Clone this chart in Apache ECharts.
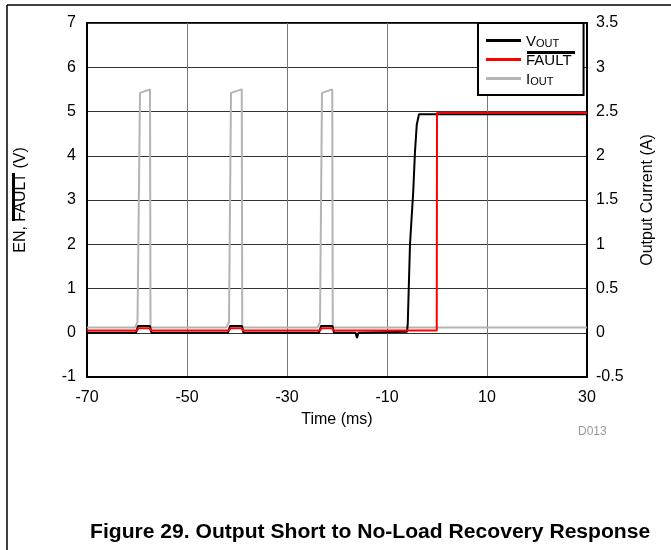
<!DOCTYPE html>
<html>
<head>
<meta charset="utf-8">
<script src="https://cdn.jsdelivr.net/npm/echarts@6/dist/echarts.min.js"></script>
<style>
html,body{margin:0;padding:0;background:#fff;}
#chart{width:671px;height:550px;}
</style>
</head>
<body>
<div id="chart"></div>
<script>
// ---- data ----
const xTicks = [-70, -50, -30, -10, 10, 30];
const leftTicks = [-1, 0, 1, 2, 3, 4, 5, 6, 7];
const rightTicks = [-0.5, 0, 0.5, 1, 1.5, 2, 2.5, 3, 3.5];

// VOUT (V, left axis)
const vTime = [-70, -60.2, -59.8, -57.4, -57.1, -41.8, -41.4, -39.0, -38.7, -23.6, -23.2, -20.9, -20.6, -16.3, -16.0, -15.7, -6.0, -5.85, -5.4, -4.75, -4.4, -4.05, -3.6, 30];
const vVal  = [0, 0, 0.15, 0.15, 0, 0, 0.15, 0.15, 0, 0, 0.15, 0.15, 0, 0, -0.12, 0, 0.02, 0.2, 2.0, 3.2, 4.1, 4.7, 4.94, 4.94];

// FAULT (V, left axis)
const fTime = [-70, -60.0, -59.7, -57.5, -57.2, -41.6, -41.3, -39.1, -38.8, -23.4, -23.1, -21.0, -20.7, -0.05, 0, 30];
const fVal  = [0.05, 0.05, 0.1, 0.1, 0.05, 0.05, 0.1, 0.1, 0.05, 0.05, 0.1, 0.1, 0.05, 0.05, 4.97, 4.97];

// IOUT (A, right axis)
const iTime = [-70, -60.4, -59.9, -59.4, -57.4, -57.3, -42.1, -41.6, -41.2, -39.05, -38.95, -23.9, -23.4, -23.0, -20.95, -20.85, 30];
const iVal  = [0.06, 0.06, 0.12, 2.71, 2.75, 0.06, 0.06, 0.12, 2.71, 2.75, 0.06, 0.06, 0.12, 2.71, 2.75, 0.06, 0.06];

const zip = (a, b) => a.map((t, i) => [t, b[i]]);
const FONT = '"Liberation Sans", Arial, Helvetica, sans-serif';

const chart = echarts.init(document.getElementById('chart'), null, {renderer: 'canvas'});
chart.setOption({
  animation: false,
  backgroundColor: '#fff',
  textStyle: {fontFamily: FONT},
  title: {
    text: 'Figure 29. Output Short to No-Load Recovery Response',
    left: 85, top: 517,
    textStyle: {fontFamily: FONT, fontSize: 21.1, fontWeight: 'bold', color: '#000'}
  },
  grid: {left: 87, right: 84, top: 23, bottom: 173, show: true, borderColor: '#000', borderWidth: 2, backgroundColor: 'transparent'},
  legend: {
    left: 478, top: 23, orient: 'vertical',
    data: ['VOUT', 'FAULT', 'IOUT'],
    icon: 'rect', itemWidth: 35, itemHeight: 3, itemGap: 4,
    padding: [11, 12, 8, 8],
    borderColor: '#000', borderWidth: 2, backgroundColor: '#fff',
    formatter: function (n) {
      if (n === 'VOUT') return '{m|V}{s|OUT}';
      if (n === 'IOUT') return '{m|I}{s|OUT}';
      return '{m|FAULT}';
    },
    textStyle: {
      fontFamily: FONT, color: '#000',
      rich: {
        m: {fontSize: 15, fontFamily: FONT, color: '#000', lineHeight: 17, verticalAlign: 'bottom'},
        s: {fontSize: 11, fontFamily: FONT, color: '#000', lineHeight: 17, verticalAlign: 'bottom', padding: [3, 0, 0, 0]}
      }
    }
  },
  xAxis: {
    type: 'value', min: xTicks[0], max: xTicks[xTicks.length - 1], interval: 20,
    name: 'Time (ms)', nameLocation: 'middle', nameGap: 35,
    nameTextStyle: {fontFamily: FONT, fontSize: 16, color: '#000'},
    axisLine: {show: true, onZero: false, lineStyle: {color: '#000', width: 2}},
    axisTick: {show: false},
    axisLabel: {fontFamily: FONT, fontSize: 16, color: '#000', margin: 13},
    splitLine: {show: true, lineStyle: {color: '#777', width: 1}}
  },
  yAxis: [{
    type: 'value', min: leftTicks[0], max: leftTicks[leftTicks.length - 1], interval: 1,
    name: 'EN, FAULT (V)', nameLocation: 'middle', nameRotate: 90, nameGap: 58,
    nameTextStyle: {fontFamily: FONT, fontSize: 16, color: '#000'},
    axisLine: {show: true, onZero: false, lineStyle: {color: '#000', width: 2}},
    axisTick: {show: false},
    axisLabel: {fontFamily: FONT, fontSize: 16, color: '#000', margin: 11},
    splitLine: {show: true, lineStyle: {color: '#333', width: 1}}
  }, {
    type: 'value', min: rightTicks[0], max: rightTicks[rightTicks.length - 1], interval: 0.5,
    name: 'Output Current (A)', nameLocation: 'middle', nameRotate: 90, nameGap: 53,
    nameTextStyle: {fontFamily: FONT, fontSize: 16, color: '#000'},
    axisLine: {show: true, onZero: false, lineStyle: {color: '#000', width: 2}},
    axisTick: {show: false},
    axisLabel: {fontFamily: FONT, fontSize: 16, color: '#000', margin: 9},
    splitLine: {show: false}
  }],
  series: [{
    name: 'IOUT', type: 'line', yAxisIndex: 1, showSymbol: false, z: 2,
    lineStyle: {color: '#b4b4b4', width: 2}, itemStyle: {color: '#b4b4b4'},
    data: zip(iTime, iVal)
  }, {
    name: 'VOUT', type: 'line', yAxisIndex: 0, showSymbol: false, z: 3,
    lineStyle: {color: '#000', width: 2}, itemStyle: {color: '#000'},
    data: zip(vTime, vVal)
  }, {
    name: 'FAULT', type: 'line', yAxisIndex: 0, showSymbol: false, z: 4,
    lineStyle: {color: '#ff0000', width: 2}, itemStyle: {color: '#ff0000'},
    data: zip(fTime, fVal)
  }],
  graphic: [
    {type: 'line', silent: true, shape: {x1: 7, y1: 5, x2: 671, y2: 5}, style: {stroke: '#000', lineWidth: 1.5}},
    {type: 'line', silent: true, shape: {x1: 7, y1: 5, x2: 7, y2: 550}, style: {stroke: '#000', lineWidth: 1.5}},
    {type: 'text', silent: true, left: 578, top: 426, style: {text: 'D013', fontFamily: FONT, fontSize: 12, fill: '#999'}},
    // overline over FAULT in legend
    {type: 'rect', silent: true, z: 100, shape: {x: 527, y: 51, width: 48, height: 3}, style: {fill: '#000'}},
    // overline over FAULT in the left axis name
    {type: 'rect', silent: true, z: 100, shape: {x: 12, y: 173, width: 3, height: 48}, style: {fill: '#000'}}
  ]
});
</script>
</body>
</html>
